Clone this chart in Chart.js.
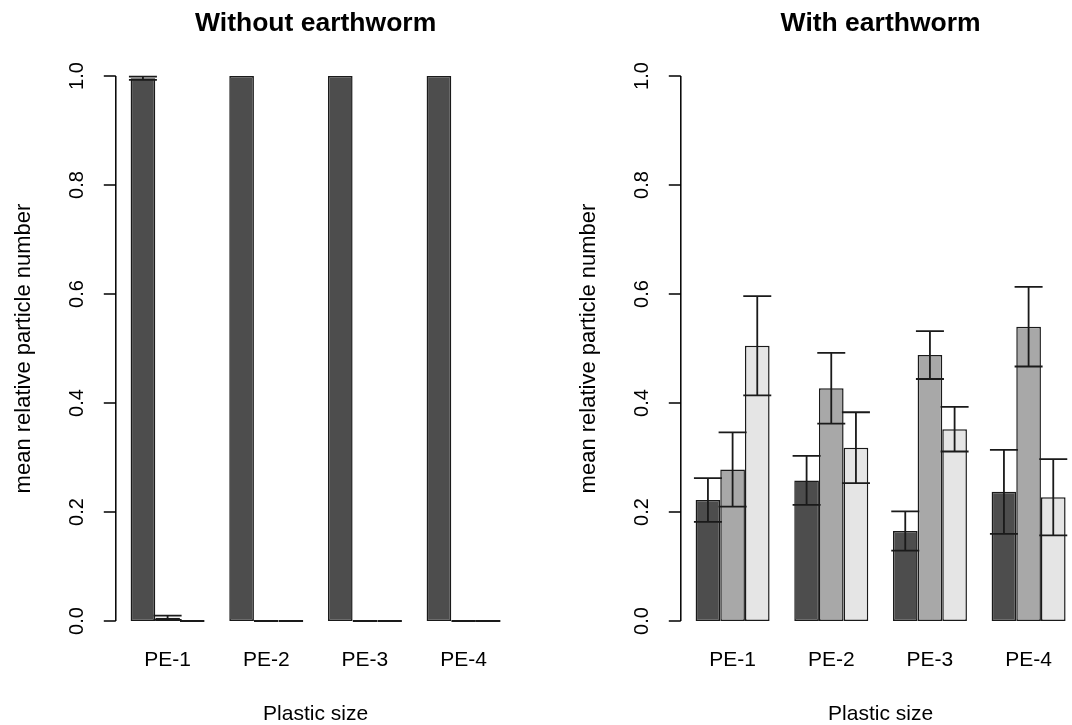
<!DOCTYPE html>
<html>
<head>
<meta charset="utf-8">
<script src="https://cdn.jsdelivr.net/npm/chart.js@4.4.1/dist/chart.umd.min.js"></script>
<style>
  html, body { margin: 0; padding: 0; background: #fff; overflow: hidden; }
  .panel { position: absolute; top: 0; width: 565px; height: 725px; }
</style>
</head>
<body>
<div class="panel" style="left:0"><canvas id="grafica1"></canvas></div>
<div class="panel" style="left:565px"><canvas id="grafica2"></canvas></div>
<script>
const categorias = ['PE-1', 'PE-2', 'PE-3', 'PE-4'];
const yTicks = [0, 0.2, 0.4, 0.6, 0.8, 1.0];

// Without earthworm (means and errors, three bars per size)
const sinOscuro = [0.996, 1, 1, 1];
const sinMedio = [0.006, 0, 0, 0];
const sinClaro = [0, 0, 0, 0];
const sinOscuroErr = [0.003, 0, 0, 0];
const sinMedioErr = [0.004, 0, 0, 0];
const sinClaroErr = [0, 0, 0, 0];

// With earthworm
const conOscuro = [0.222, 0.258, 0.165, 0.237];
const conMedio = [0.278, 0.427, 0.488, 0.540];
const conClaro = [0.505, 0.318, 0.352, 0.227];
const conOscuroErr = [0.040, 0.045, 0.036, 0.077];
const conMedioErr = [0.068, 0.065, 0.044, 0.073];
const conClaroErr = [0.091, 0.065, 0.041, 0.070];

const colores = ['#4d4d4d', '#a8a8a8', '#e5e5e5'];
const fuente = '"Liberation Sans", Arial, Helvetica, sans-serif';

// barplot layout: 1 space + 3 bars per group -> group centre
const centro = i => 4 * i + 2.5;

function crearGrafica(id, titulo, series, errores) {
    const datasets = series.map((valores, k) => ({
        data: valores.map((v, i) => ({ x: centro(i), y: v })),
        backgroundColor: colores[k],
        borderColor: '#1a1a1a',
        borderWidth: 1.5,
        borderSkipped: false,
        minBarLength: 2,
        categoryPercentage: 0.75,
        barPercentage: 1,
    }));

    const ejesYErrores = {
        id: 'ejesYErrores',
        afterDatasetsDraw(chart) {
            const ctx = chart.ctx;
            const y = chart.scales.y;
            const left = chart.chartArea.left;
            ctx.save();

            // error bars
            ctx.strokeStyle = '#1a1a1a';
            ctx.lineWidth = 1.8;
            errores.forEach((errs, k) => {
                chart.getDatasetMeta(k).data.forEach((bar, i) => {
                    const e = errs[i];
                    if (!e) return;
                    const v = series[k][i];
                    const yt = y.getPixelForValue(v + e);
                    const yb = y.getPixelForValue(v - e);
                    ctx.beginPath();
                    ctx.moveTo(bar.x, yt); ctx.lineTo(bar.x, yb);
                    ctx.moveTo(bar.x - 14, yt); ctx.lineTo(bar.x + 14, yt);
                    ctx.moveTo(bar.x - 14, yb); ctx.lineTo(bar.x + 14, yb);
                    ctx.stroke();
                });
            });

            // y axis, R style
            ctx.strokeStyle = '#000';
            ctx.lineWidth = 1.5;
            ctx.beginPath();
            ctx.moveTo(left, y.getPixelForValue(yTicks[0]));
            ctx.lineTo(left, y.getPixelForValue(yTicks[yTicks.length - 1]));
            yTicks.forEach(t => {
                const p = y.getPixelForValue(t);
                ctx.moveTo(left - 12, p);
                ctx.lineTo(left, p);
            });
            ctx.stroke();

            ctx.fillStyle = '#000';
            ctx.textAlign = 'center';
            ctx.textBaseline = 'middle';
            ctx.font = '20px ' + fuente;
            yTicks.forEach(t => {
                ctx.save();
                ctx.translate(left - 38, y.getPixelForValue(t));
                ctx.rotate(-Math.PI / 2);
                ctx.fillText(t.toFixed(1), 0, 0);
                ctx.restore();
            });

            ctx.font = '22px ' + fuente;
            ctx.translate(24, (y.getPixelForValue(0) + y.getPixelForValue(1)) / 2);
            ctx.rotate(-Math.PI / 2);
            ctx.fillText('mean relative particle number', 0, 0);
            ctx.restore();
        }
    };

    new Chart(document.querySelector(id), {
        type: 'bar',
        data: { datasets },
        options: {
            responsive: true,
            maintainAspectRatio: false,
            animation: false,
            layout: { padding: { left: 115.8, right: 49.6, top: 0, bottom: 0 } },
            plugins: {
                legend: { display: false },
                tooltip: { enabled: false },
                title: {
                    display: true,
                    text: titulo,
                    color: '#000',
                    font: { family: fuente, size: 26.5, weight: 'bold', lineHeight: 1 },
                    padding: { top: 10, bottom: 17.7 }
                }
            },
            scales: {
                x: {
                    type: 'linear',
                    min: 0.4,
                    max: 16.6,
                    offset: false,
                    grid: { display: false, drawTicks: false },
                    border: { display: false },
                    afterBuildTicks: s => { s.ticks = categorias.map((c, i) => ({ value: centro(i) })); },
                    afterFit: s => { s.height = 82.2; },
                    ticks: {
                        autoSkip: false,
                        maxRotation: 0,
                        padding: 5,
                        color: '#000',
                        font: { family: fuente, size: 21 },
                        callback: (v, i) => categorias[i]
                    },
                    title: {
                        display: true,
                        text: 'Plastic size',
                        color: '#000',
                        font: { family: fuente, size: 21, lineHeight: 1 },
                        padding: 0
                    }
                },
                y: { display: false, min: -0.04, max: 1.04 }
            }
        },
        plugins: [ejesYErrores]
    });
}

crearGrafica('#grafica1', 'Without earthworm',
    [sinOscuro, sinMedio, sinClaro], [sinOscuroErr, sinMedioErr, sinClaroErr]);
crearGrafica('#grafica2', 'With earthworm',
    [conOscuro, conMedio, conClaro], [conOscuroErr, conMedioErr, conClaroErr]);
</script>
</body>
</html>
